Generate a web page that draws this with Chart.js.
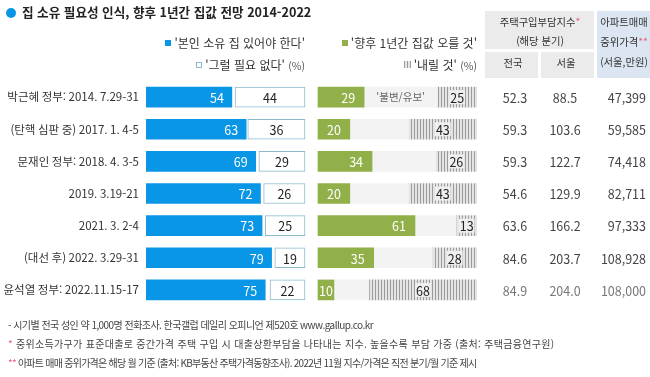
<!DOCTYPE html>
<html lang="ko">
<head>
<meta charset="utf-8">
<title>집 소유 필요성 인식, 향후 1년간 집값 전망 2014-2022</title>
<script src="https://cdn.jsdelivr.net/npm/chart.js@4.4.0/dist/chart.umd.min.js"></script>
<style>
    html, body { margin: 0; padding: 0; background: #fff; }
    body {
        width: 650px; height: 377px; position: relative; overflow: hidden;
        font-family: "Noto Sans CJK KR", "Noto Sans", sans-serif; color: #333;
    }
    #survey-chart { position: absolute; left: 0; top: 0; }
    .t { position: absolute; white-space: nowrap; line-height: 1; }
    .title { left: 22px; top: 6px; font-size: 12.6px; font-weight: bold; color: #222; }
    .dot { position: absolute; left: 6px; top: 8px; width: 10px; height: 10px; border-radius: 50%; background: #0a96e6; }
    .legend { font-size: 12px; color: #333; }
    .legend .pct { font-size: 10.5px; color: #555; }
    .sw { display: inline-block; width: 6px; height: 6px; margin-right: 3px; vertical-align: 2px; box-sizing: border-box; }
    .hatch-sw { background: repeating-linear-gradient(90deg, #999 0 1px, #e6e6e6 1px 3px); width: 7px; height: 7px; }
    .box { position: absolute; background: #ebebeb; }
    .box.blue { background: #dce6f2; }
    .hd { font-size: 10.3px; color: #333; transform: translateX(-50%); }
    .star { color: #e0607e; }
    .note { left: 8px; font-size: 10px; color: #444; }
</style>
</head>
<body>
<canvas id="survey-chart" width="650" height="377"></canvas>

<div class="dot"></div>
<div class="t title">집 소유 필요성 인식, 향후 1년간 집값 전망 2014-2022</div>

<div class="t legend" style="right:345px; top:37px;"><i class="sw" style="background:#0a96e6"></i>'본인 소유 집 있어야 한다'</div>
<div class="t legend" style="right:345px; top:59px;"><i class="sw" style="border:1px solid #8db8cc"></i>'그럴 필요 없다' <span class="pct">(%)</span></div>
<div class="t legend" style="right:173px; top:37px;"><i class="sw" style="background:#92b04a"></i>'향후 1년간 집값 오를 것'</div>
<div class="t legend" style="right:173px; top:59px;"><i class="sw hatch-sw"></i>'내릴 것' <span class="pct">(%)</span></div>

<div class="box" style="left:485px; top:11px; width:109px; height:38px;"></div>
<div class="box" style="left:485px; top:52px; width:53px; height:26px;"></div>
<div class="box" style="left:541px; top:52px; width:53px; height:26px;"></div>
<div class="box blue" style="left:597px; top:11px; width:53px; height:67px;"></div>
<div class="t hd" style="left:540px; top:17px;">주택구입부담지수<span class="star">*</span></div>
<div class="t hd" style="left:540px; top:36px;">(해당 분기)</div>
<div class="t hd" style="left:513px; top:58px;">전국</div>
<div class="t hd" style="left:566px; top:58px;">서울</div>
<div class="t hd" style="left:624px; top:17px;">아파트매매</div>
<div class="t hd" style="left:624px; top:37px;">중위가격<span class="star">**</span></div>
<div class="t hd" style="left:624px; top:57px;">(서울,만원)</div>

<div class="t note" style="top:320px; letter-spacing:-0.55px;">- 시기별 전국 성인 약 1,000명 전화조사. 한국갤럽 데일리 오피니언 제520호 www.gallup.co.kr</div>
<div class="t note" style="top:339px; letter-spacing:0.3px;"><span class="star">*</span> 중위소득가구가 표준대출로 중간가격 주택 구입 시 대출상환부담을 나타내는 지수. 높을수록 부담 가중 (출처: 주택금융연구원)</div>
<div class="t note" style="top:358px; letter-spacing:-0.75px;"><span class="star">**</span> 아파트 매매 중위가격은 해당 월 기준 (출처: KB부동산 주택가격동향조사). 2022년 11월 지수/가격은 직전 분기/월 기준 제시</div>

<script>
// Survey rows
const surveyLabels = [
    '박근혜 정부: 2014. 7.29-31',
    '(탄핵 심판 중) 2017. 1. 4-5',
    '문재인 정부: 2018. 4. 3-5',
    '2019. 3.19-21',
    '2021. 3. 2-4',
    '(대선 후) 2022. 3.29-31',
    '윤석열 정부: 2022.11.15-17'
];
// '본인 소유 집 있어야 한다' / '그럴 필요 없다' (%)
const ownHomeNeeded = [54, 63, 69, 72, 73, 79, 75];
const notNeeded = [44, 36, 29, 26, 25, 19, 22];
// '향후 1년간 집값 오를 것' / '내릴 것' (%)
const priceUp = [29, 20, 34, 20, 61, 35, 10];
const priceDown = [25, 43, 26, 43, 13, 28, 68];
// 주택구입부담지수 (전국, 서울) and 아파트 매매 중위가격 (서울, 만원)
const affordNational = [52.3, 59.3, 59.3, 54.6, 63.6, 84.6, 84.9];
const affordSeoul = [88.5, 103.6, 122.7, 129.9, 166.2, 203.7, 204.0];
const aptMedianSeoul = [47399, 59585, 74418, 82711, 97333, 108928, 108000];

const BLUE = '#0a96e6';
const GREEN = '#92b04a';
const FONT = '"Noto Sans CJK KR", "Noto Sans", sans-serif';

// plot area, px
const PLOT_LEFT = 146, PLOT_RIGHT = 477;
const LEFT_GROUP_END = 305;     // where 100% of the left group sits
const RIGHT_GROUP_START = 318;  // where 0% of the right group sits
const pxPerUnit = (LEFT_GROUP_END - PLOT_LEFT) / 100;

const canvas = document.getElementById('survey-chart');
const ctx = canvas.getContext('2d');

function makeHatch() {
    const c = document.createElement('canvas');
    c.width = 3; c.height = 4;
    const g = c.getContext('2d');
    g.fillStyle = '#e4e4e4';
    g.fillRect(0, 0, 3, 4);
    g.fillStyle = '#9c9c9c';
    g.fillRect(0, 0, 1, 4);
    return ctx.createPattern(c, 'repeat');
}

const valueLabels = {
    id: 'valueLabels',
    afterDatasetsDraw(chart) {
        const c = chart.ctx;
        c.save();
        c.textBaseline = 'middle';
        c.font = '12.5px ' + FONT;

        chart.data.datasets.forEach((ds, di) => {
            const meta = chart.getDatasetMeta(di);
            meta.data.forEach((bar, i) => {
                const { x, base, y } = bar.getProps(['x', 'base', 'y'], true);
                const mid = (x + base) / 2;
                if (ds.key === 'own') {
                    c.fillStyle = '#fff';
                    c.textAlign = 'right';
                    c.fillText(ownHomeNeeded[i], x - 8, y + 1);
                } else if (ds.key === 'not') {
                    c.fillStyle = '#222';
                    c.textAlign = 'center';
                    c.fillText(notNeeded[i], mid, y + 1);
                } else if (ds.key === 'up') {
                    const txt = String(priceUp[i]);
                    const w = c.measureText(txt).width;
                    c.fillStyle = '#fff';
                    c.textAlign = 'center';
                    c.fillText(txt, Math.max(mid, x - 9 - w / 2), y + 1);
                } else if (ds.key === 'same' && i === 0) {
                    c.save();
                    c.font = '10.5px ' + FONT;
                    c.fillStyle = '#666';
                    c.textAlign = 'center';
                    c.fillText("'불변/유보'", mid, y);
                    c.restore();
                } else if (ds.key === 'down') {
                    const txt = String(priceDown[i]);
                    const w = c.measureText(txt).width;
                    c.fillStyle = '#efefef';
                    c.fillRect(mid - w / 2 - 1, y - 7, w + 2, 14);
                    c.fillStyle = '#222';
                    c.textAlign = 'center';
                    c.fillText(txt, mid, y + 1);
                }
            });
        });

        // table on the right
        const yScale = chart.scales.y;
        c.font = '12.5px ' + FONT;
        surveyLabels.forEach((_, i) => {
            const y = yScale.getPixelForValue(i) + 1;
            c.fillStyle = i === surveyLabels.length - 1 ? '#777' : '#444';
            c.textAlign = 'center';
            c.fillText(affordNational[i].toFixed(1), 515, y);
            c.fillText(affordSeoul[i].toFixed(1), 565, y);
            c.textAlign = 'right';
            c.fillText(aptMedianSeoul[i].toLocaleString('en-US'), 646, y);
        });
        c.restore();
    }
};

const barCommon = { grouped: false, barThickness: 20, borderSkipped: false };

new Chart(ctx, {
    type: 'bar',
    data: {
        labels: surveyLabels,
        datasets: [
            { key: 'own', label: "'본인 소유 집 있어야 한다'", xAxisID: 'xLeft',
              data: ownHomeNeeded.map(v => [0, v]), backgroundColor: BLUE, ...barCommon },
            { key: 'not', label: "'그럴 필요 없다'", xAxisID: 'xLeft',
              data: notNeeded.map(v => [100 - v, 100]), backgroundColor: '#fff',
              borderColor: '#8db8cc', borderWidth: 1, ...barCommon },
            { key: 'up', label: "'향후 1년간 집값 오를 것'", xAxisID: 'xRight',
              data: priceUp.map(v => [0, v]), backgroundColor: GREEN, ...barCommon },
            { key: 'same', label: "'불변/유보'", xAxisID: 'xRight',
              data: priceUp.map((v, i) => [v, 100 - priceDown[i]]), backgroundColor: '#f3f3f3', ...barCommon },
            { key: 'down', label: "'내릴 것'", xAxisID: 'xRight',
              data: priceDown.map(v => [100 - v, 100]), backgroundColor: makeHatch(), ...barCommon }
        ]
    },
    options: {
        indexAxis: 'y',
        responsive: false,
        maintainAspectRatio: false,
        animation: false,
        layout: { padding: { top: 81, bottom: 71, left: 0, right: 650 - PLOT_RIGHT } },
        scales: {
            y: {
                grid: { display: false, drawTicks: false },
                border: { display: false },
                ticks: { color: '#333', padding: 7, font: { size: 11.5, family: FONT } },
                afterFit(axis) { axis.width = PLOT_LEFT; }
            },
            xLeft: {
                display: false,
                min: 0,
                max: (PLOT_RIGHT - PLOT_LEFT) / pxPerUnit
            },
            xRight: {
                display: false,
                min: -(RIGHT_GROUP_START - PLOT_LEFT) / pxPerUnit,
                max: 100
            }
        },
        plugins: {
            legend: { display: false },
            tooltip: { enabled: false }
        }
    },
    plugins: [valueLabels]
});
</script>
</body>
</html>
